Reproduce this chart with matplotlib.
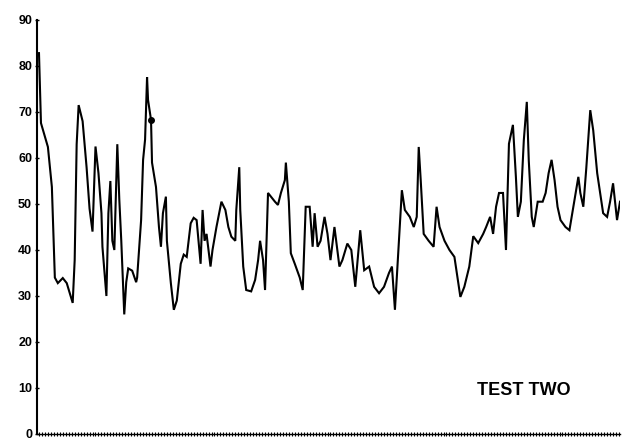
import matplotlib
matplotlib.use("Agg")
import matplotlib.pyplot as plt
from matplotlib.ticker import MultipleLocator

sample = [0,2,9,13,16,19,24,28,34,36,38,40,44,48,51,54,57,60,63,64,68,70,72,74,76,79,81,83,86,88,90,94,98,99,103,105,107,109,110,113,114,118,121,123,125,128,129,133,136,139,143,146,149,153,156,159,163,165,167,169,173,175,179,184,188,191,194,198,199,202,203,206,209,214,218,221,223,226,228,231,234,238,241,244,248,249,252,254,258,263,266,269,273,276,278,281,284,288,291,294,298,303,306,311,315,319,324,328,333,338,343,348,353,356,359,363,366,369,374,378,381,383,385,388,393,398,401,404,409,414,419,423,425,429,434,438,443,448,451,455,458,461,464,468,471,474,478,481,483,486,489,492,494,497,499,503,508,511,514,517,520,523,526,531,535,539,544,546,549,552,556,559,563,566,569,573,576,579,583,586]

value = [82.8,67.6,62.4,53.7,34,32.8,33.9,32.8,28.5,37.8,63,71.5,68,58,49,44,62.5,56.7,48,40.7,30,48,55,42,40,63,51,42,26,33,36,35.5,33,34,46.5,59.6,64,77.6,72.6,68.3,59,53.7,45,40.7,48,51.6,42,32.8,27,29,37,39,38.5,45.8,47,46.5,37,48.7,42,43.5,36.4,40,45,50.5,48.7,45,42.9,42,48.7,58,48.7,36.4,31.3,31,33.5,37.8,42,37.8,31.3,52.4,51.6,50.5,49.8,52.4,55.2,59,50.5,39.3,37,34,31.3,49.4,49.4,40.7,48,40.7,42,47.2,43.5,37.8,45,36.4,37.8,41.4,40,32,44.3,35.6,36.4,32,30.6,32,35,36.4,27,42,53,48.7,47.2,45,47.2,62.4,55.2,43.5,42,40.7,49.4,45,42,40,38.5,32.8,29.8,32,36.4,43,41.5,43.5,45,47.2,43.5,49.4,52.4,52.4,40,63.1,67.2,55.9,47.2,50.5,63.9,72.2,59.4,47.2,45,50.5,50.5,52.4,56.7,59.6,55.2,49.4,46.5,45,44.3,49.4,55.9,52.4,49.4,57.8,70.4,66,56.7,52.4,48,47.2,50.5,54.5,46.5,50.5]

assert len(sample) == len(value), (len(sample), len(value))

y_ticks = [0, 10, 20, 30, 40, 50, 60, 70, 80, 90]
title_text = "TEST TWO"
marked_index = 39

plt.rcParams['font.family'] = ['Liberation Sans', 'DejaVu Sans']

fig = plt.figure(figsize=(6.23, 4.41), dpi=100)
ax = fig.add_axes([37/623, 1 - 434/441, (620 - 37)/623, (434 - 20)/441])

ax.plot(sample, value, color='black', lw=1.5, solid_joinstyle='miter')
ax.plot([sample[marked_index]], [value[marked_index]], 'o', color='black', ms=4)

ax.set_xlim(-2, 586)
ax.set_ylim(0, 90)
ax.set_yticks(y_ticks)
ax.set_yticklabels([str(t) for t in y_ticks], fontsize=9, fontweight='bold')
ax.tick_params(axis='y', direction='inout', length=3, width=1, pad=2)

ax.set_xticks([])
ax.xaxis.set_minor_locator(MultipleLocator(3))
ax.tick_params(axis='x', which='minor', direction='inout', length=3, width=0.8)

for s in ['top', 'right']:
    ax.spines[s].set_visible(False)
ax.spines['left'].set_linewidth(1.5)
ax.spines['bottom'].set_linewidth(1.0)
ax.patch.set_alpha(0)

ax.text(0.835, 0.105, title_text, transform=ax.transAxes, ha='center', va='center',
        fontsize=13, fontweight='bold')

fig.savefig("out.png", dpi=100)
